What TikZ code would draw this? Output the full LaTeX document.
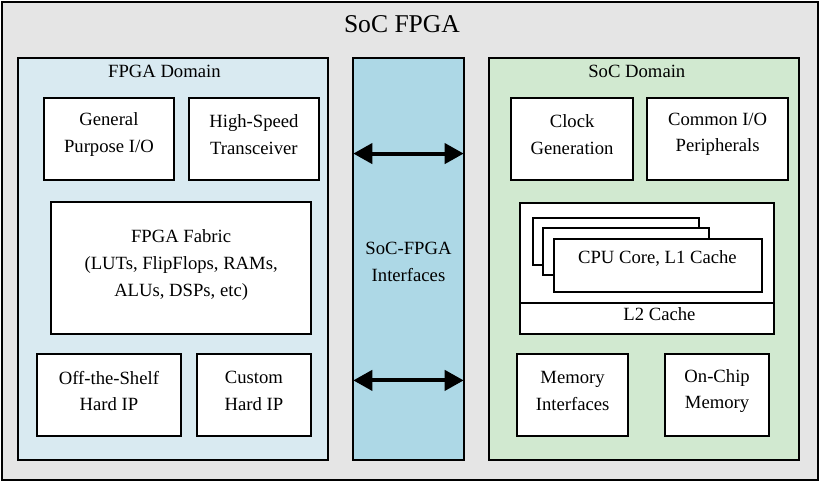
\documentclass[tikz,border=0pt]{standalone}
\usepackage{fontspec}
\setmainfont{Liberation Serif}
\usetikzlibrary{arrows.meta}
\definecolor{outergray}{HTML}{E5E5E5}
\definecolor{fpgablue}{HTML}{D9EAF1}
\definecolor{ifblue}{HTML}{ADD8E6}
\definecolor{socgreen}{HTML}{D1E9D0}
\tikzset{
  region/.style={draw, line width=2pt, inner sep=0pt},
  box/.style={draw, line width=2pt, fill=white, inner sep=0pt},
  txt/.style={align=center, inner sep=0pt, font=\fontsize{18.6}{26.5}\selectfont},
  ttl/.style={inner sep=0pt, font=\fontsize{25.5}{30}\selectfont},
  biarrow/.style={line width=4pt, {Triangle[length=19pt,width=20pt]}-{Triangle[length=19pt,width=20pt]}}
}
\begin{document}
\begin{tikzpicture}[x=1pt,y=-1pt]
\useasboundingbox (0,0) rectangle (817,480);
% outer
\node[region, fill=outergray, minimum width=813pt, minimum height=476pt] (soc) at (408.5,240) {};
\node[ttl] (soct) at (400.5,24) {SoC FPGA};
% domains
\node[region, fill=fpgablue, minimum width=309pt, minimum height=400pt] (fpgad) at (172.5,258) {};
\node[txt] (fpgadt) at (163.8,71.5) {FPGA Domain};
\node[region, fill=ifblue, minimum width=110pt, minimum height=400pt] (ifs) at (407,258) {};
\node[txt] (ifst) at (407,261) {SoC-FPGA\\Interfaces};
\node[region, fill=socgreen, minimum width=309pt, minimum height=400pt] (socd) at (641.5,258) {};
\node[txt] (socdt) at (634.5,71.5) {SoC Domain};
% FPGA side boxes
\node[box, minimum width=129pt, minimum height=81pt] (gpio) at (108.5,138.5) {};
\node[txt] (gpiot) at (108.5,134) {General\\Purpose I/O};
\node[box, minimum width=130pt, minimum height=81pt] (hst) at (253,138.5) {};
\node[txt] (hstt) at (253,134) {High-Speed\\Transceiver};
\node[box, minimum width=259pt, minimum height=132pt] (fab) at (180.5,267) {};
\node[txt] (fabt) at (180.5,264) {FPGA Fabric\\(LUTs, FlipFlops, RAMs,\\ALUs, DSPs, etc)};
\node[box, minimum width=143pt, minimum height=81pt] (ots) at (108.5,393.5) {};
\node[txt] (otst) at (108.5,389.5) {Off-the-Shelf\\Hard IP};
\node[box, minimum width=114pt, minimum height=81pt] (chip) at (253,393.5) {};
\node[txt] (chipt) at (253,389.5) {Custom\\Hard IP};
% SoC side boxes
\node[box, minimum width=122pt, minimum height=81pt] (clk) at (570,138.5) {};
\node[txt] (clkt) at (570,134) {Clock\\Generation};
\node[box, minimum width=140pt, minimum height=81pt] (cio) at (715,138.5) {};
\node[txt] (ciot) at (715,134) {Common I/O\\Peripherals};
\node[box, minimum width=253pt, minimum height=131pt] (l2) at (644.5,267.5) {};
\coordinate (l2divl) at (518,302);
\coordinate (l2divr) at (771,302);
\draw[line width=2pt] (l2divl) -- (l2divr);
\node[txt] (l2t) at (657,313) {L2 Cache};
\node[box, minimum width=165pt, minimum height=47pt] (cpuc) at (613.5,240.5) {};
\node[box, minimum width=165pt, minimum height=47pt] (cpub) at (623.5,250.5) {};
\node[box, minimum width=207pt, minimum height=53pt] (cpua) at (655.5,264.5) {};
\node[txt] (cpuat) at (655,258) {CPU Core, L1 Cache};
\node[box, minimum width=111pt, minimum height=81pt] (memif) at (570.5,393.5) {};
\node[txt] (memift) at (570.5,389.5) {Memory\\Interfaces};
\node[box, minimum width=103pt, minimum height=81pt] (ocm) at (714.5,393.5) {};
\node[txt] (ocmt) at (714.5,389.5) {On-Chip\\Memory};
% arrows
\coordinate (a1l) at (352,153);
\coordinate (a1r) at (462,153);
\coordinate (a2l) at (352,379);
\coordinate (a2r) at (462,379);
\draw[biarrow] (a1l) -- (a1r);
\draw[biarrow] (a2l) -- (a2r);
\end{tikzpicture}
\end{document}
